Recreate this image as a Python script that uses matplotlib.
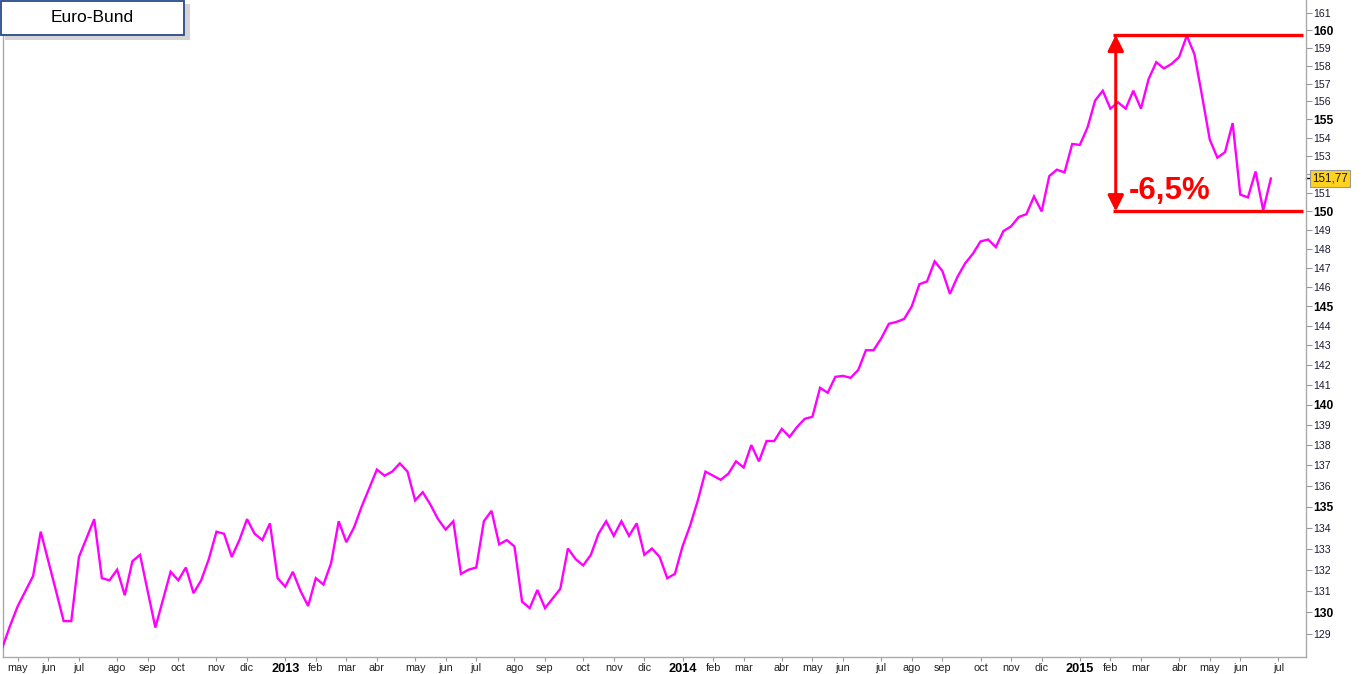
import matplotlib.pyplot as plt
import matplotlib.ticker as mticker
from matplotlib.patches import Rectangle
import pandas as pd

plt.rcParams['font.family'] = ['Liberation Sans', 'DejaVu Sans']

# --- Datos: Euro-Bund, cierre semanal (semanas que empiezan en lunes) ---
fecha_inicio = '2012-04-23'
precios = [
    128.4, 129.4, 130.3, 131.0, 131.7, 133.8, 132.4, 131.0, 129.6, 129.6,
    132.6, 133.5, 134.4, 131.6, 131.5, 132.0, 130.8, 132.4, 132.7, 131.0,
    129.3, 130.6, 131.9, 131.5, 132.1, 130.9, 131.5, 132.5, 133.8, 133.7,
    132.6, 133.4, 134.4, 133.7, 133.4, 134.2, 131.6, 131.2, 131.9, 131.0,
    130.3, 131.6, 131.3, 132.3, 134.3, 133.3, 134.0, 135.0, 135.9, 136.8,
    136.5, 136.7, 137.1, 136.7, 135.3, 135.7, 135.1, 134.4, 133.9, 134.3,
    131.8, 132.0, 132.1, 134.3, 134.8, 133.2, 133.4, 133.1, 130.5, 130.2,
    131.05, 130.2, 130.65, 131.1, 133.0, 132.5, 132.2, 132.7, 133.7, 134.3,
    133.6, 134.3, 133.6, 134.2, 132.7, 133.0, 132.6, 131.6, 131.8, 133.1,
    134.1, 135.3, 136.7, 136.5, 136.3, 136.6, 137.2, 136.9, 138.0, 137.2,
    138.2, 138.2, 138.8, 138.4, 138.9, 139.3, 139.4, 140.85, 140.6, 141.4,
    141.45, 141.35, 141.75, 142.75, 142.75, 143.35, 144.1, 144.2, 144.35, 145.0,
    146.15, 146.3, 147.35, 146.85, 145.65, 146.55, 147.25, 147.75, 148.4, 148.5,
    148.1, 148.95, 149.2, 149.7, 149.85, 150.8, 150.0, 151.9, 152.25, 152.1,
    153.65, 153.6, 154.55, 156.05, 156.6, 155.6, 155.95, 155.6, 156.6, 155.6,
    157.25, 158.2, 157.85, 158.1, 158.5, 159.7, 158.65, 156.3, 153.9, 152.9,
    153.2, 154.8, 150.9, 150.75, 152.15, 150.05, 151.77,
]
ultimo = 151.77
ultimo_txt = '151,77'
nivel_max = 159.75
nivel_min = 150.0
caida_txt = '-6,5%'
meses_es = ['ene', 'feb', 'mar', 'abr', 'may', 'jun', 'jul', 'ago', 'sep', 'oct', 'nov', 'dic']
y_ticks = list(range(129, 162))

x_min, x_max = 0.1, 170.6

# --- Eje de fechas (índice semanal) ---
fechas = pd.date_range(fecha_inicio, periods=171, freq='7D')
x = list(range(len(precios)))
tick_pos, tick_lab = [], []
for i in range(1, len(fechas)):
    if fechas[i].month != fechas[i - 1].month and i < x_max:
        tick_pos.append(i)
        if fechas[i].month == 1:
            tick_lab.append(str(fechas[i].year))
        else:
            tick_lab.append(meses_es[fechas[i].month - 1])

# --- Figura ---
fig = plt.figure(figsize=(13.62, 6.74), dpi=100)
ax = fig.add_axes([3.3 / 1362, 17 / 674, (1306 - 3.3) / 1362, 657 / 674])

ax.plot(x, precios, color='#FF00FF', linewidth=1.7, solid_joinstyle='miter', zorder=3)

ax.set_yscale('log')

# etiquetas del eje derecho (la del 152 queda tapada por el último precio)
y_labels = ['' if v == 152 else str(v) for v in y_ticks]
ax.yaxis.tick_right()
ax.yaxis.set_major_locator(mticker.FixedLocator(y_ticks))
ax.yaxis.set_minor_locator(mticker.NullLocator())
ax.yaxis.set_major_formatter(mticker.FixedFormatter(y_labels))
ax.tick_params(axis='y', which='major', length=4, width=0.8, color='#999999',
               pad=1.5, labelsize=7.6, labelcolor='#1a1a33')
for lab, v in zip(ax.get_yticklabels(), y_ticks):
    if v % 5 == 0:
        lab.set_fontweight('bold')
        lab.set_fontsize(8.7)
        lab.set_color('black')

ax.set_xticks(tick_pos)
ax.set_xticklabels(tick_lab)
ax.tick_params(axis='x', length=3, width=0.8, color='#999999', pad=1.5,
               labelsize=7.8, labelcolor='#222222')
for lab in ax.get_xticklabels():
    if lab.get_text().isdigit():
        lab.set_fontweight('bold')
        lab.set_fontsize(9.2)
        lab.set_color('black')

ax.set_xlim(x_min, x_max)
ax.set_ylim(127.95, 161.75)

for s in ['left', 'bottom', 'right']:
    ax.spines[s].set_color('#AAAAAA')
    ax.spines[s].set_linewidth(1.0)
ax.spines['top'].set_visible(False)

# --- Anotación de la caída ---
x_ini = 145.3
ax.hlines([nivel_max, nivel_min], x_ini, 170.2, color='#FF0000', linewidth=2.4, zorder=4)
ax.annotate('', xy=(x_ini + 0.4, nivel_max), xytext=(x_ini + 0.4, nivel_min),
            arrowprops=dict(arrowstyle='<|-|>', color='#FF0000', lw=2.2,
                            mutation_scale=24, shrinkA=0, shrinkB=0), zorder=4)
ax.text(147.4, 151.1, caida_txt, color='#FF0000', fontsize=22.5, fontweight='bold',
        ha='left', va='center', zorder=5)

# --- Etiqueta del último precio ---
ax.plot([1.0, 1.004], [ultimo, ultimo], transform=ax.get_yaxis_transform(),
        color='black', linewidth=1, clip_on=False)
ax.text(1.0045, ultimo, ultimo_txt, transform=ax.get_yaxis_transform(),
        ha='left', va='center', fontsize=8.4, color='#1a1a1a',
        bbox=dict(boxstyle='square,pad=0.18', facecolor='#FFD21F', edgecolor='#999999', linewidth=0.8))

# --- Caja del título ---
fig.patches.append(Rectangle((5 / 1362, 1 - 40 / 674), 185 / 1362, 36 / 674,
                             transform=fig.transFigure, facecolor='#888888', alpha=0.35,
                             edgecolor='none', zorder=8))
fig.patches.append(Rectangle((1 / 1362, 1 - 35 / 674), 183 / 1362, 34 / 674,
                             transform=fig.transFigure, facecolor='white',
                             edgecolor='#274B8A', linewidth=1.3, zorder=9))
fig.text(92 / 1362, 1 - 17 / 674, 'Euro-Bund', ha='center', va='center',
         fontsize=12.5, color='black', zorder=10)

fig.savefig('out.png', dpi=100)
